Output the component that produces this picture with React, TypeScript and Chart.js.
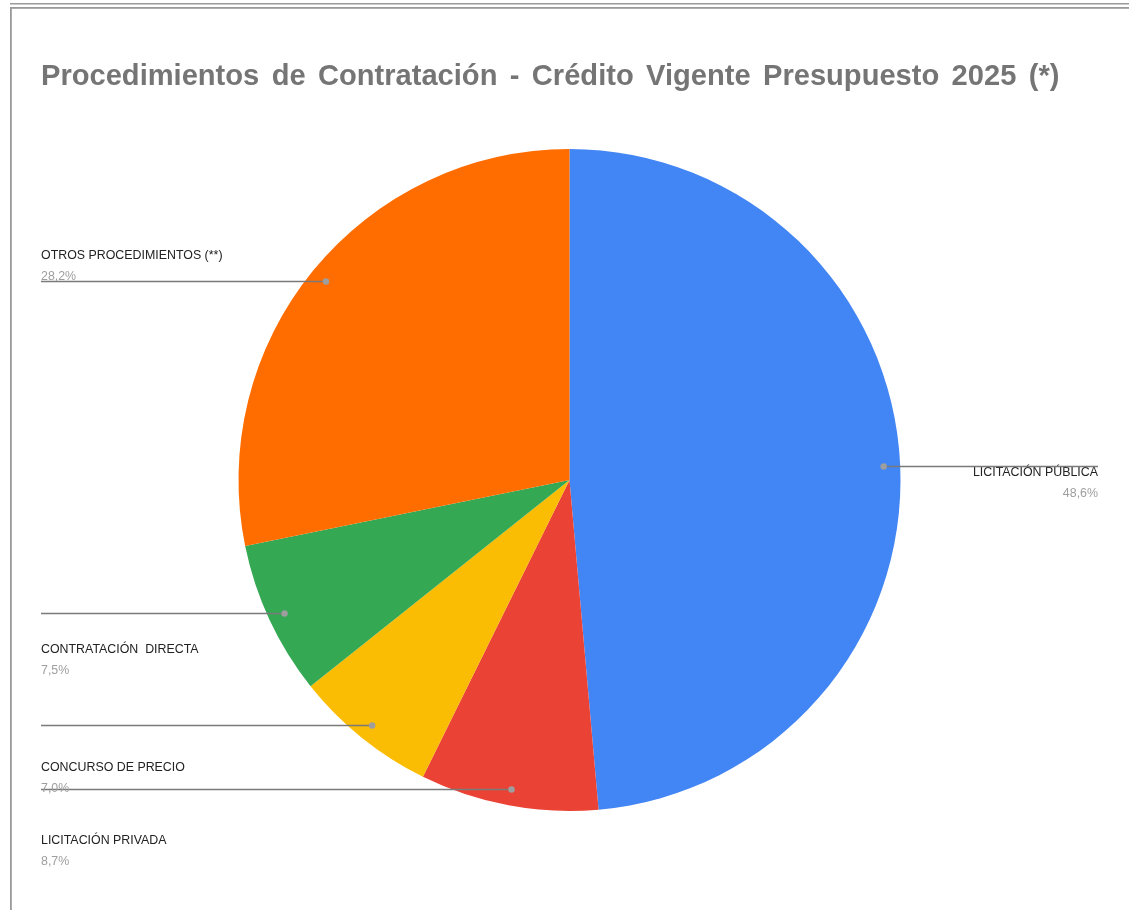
import React, { useEffect, useRef } from "react";
import { Chart, registerables } from "chart.js";

Chart.register(...registerables);

const TITLE = "Procedimientos de Contratación - Crédito Vigente Presupuesto 2025 (*)";
const categories = [
  "LICITACIÓN PÚBLICA",
  "LICITACIÓN PRIVADA",
  "CONCURSO DE PRECIO",
  "CONTRATACIÓN  DIRECTA",
  "OTROS PROCEDIMIENTOS (**)",
];
const values = [48.6, 8.7, 7.0, 7.5, 28.2];
const colors = ["#4285f4", "#ea4335", "#fbbc04", "#34a853", "#ff6d01"];
// label placement: side and baseline of the category name
const labelSide = ["right", "left", "left", "left", "left"];
const labelBaseline = [476, 844, 771, 653, 259];

const W = 1129;
const H = 910;
const FONT = '"Liberation Sans", Arial, sans-serif';

const overlayPlugin = {
  id: "overlay",
  afterDraw(chart: any) {
    const ctx = chart.ctx as CanvasRenderingContext2D;
    ctx.save();
    // frame
    ctx.fillStyle = "#9a9a9a";
    ctx.fillRect(10, 3, W - 10, 1.5);
    ctx.fillRect(10, 7, W - 10, 1.8);
    ctx.fillRect(10, 7, 1.8, H - 7);

    // title
    ctx.fillStyle = "#757575";
    ctx.font = `bold 29.1px ${FONT}`;
    (ctx as any).wordSpacing = "4.3px";
    ctx.textAlign = "left";
    ctx.textBaseline = "alphabetic";
    ctx.fillText(TITLE, 41, 85);
    (ctx as any).wordSpacing = "0px";

    const meta = chart.getDatasetMeta(0);
    const total = values.reduce((a, b) => a + b, 0);
    const leftX = 41;
    const rightX = 1098;
    meta.data.forEach((arc: any, i: number) => {
      const mid = (arc.startAngle + arc.endAngle) / 2;
      const r = arc.outerRadius * 0.95;
      const dx = arc.x + Math.cos(mid) * r;
      const dy = arc.y + Math.sin(mid) * r;
      const side = labelSide[i];
      const endX = side === "right" ? rightX : leftX;
      const by = labelBaseline[i];
      const pct = ((values[i] / total) * 100).toFixed(1).replace(".", ",") + "%";

      ctx.textAlign = side === "right" ? "right" : "left";
      ctx.font = `12.4px ${FONT}`;
      ctx.fillStyle = "#222222";
      ctx.fillText(categories[i], endX, by);
      ctx.fillStyle = "#9e9e9e";
      ctx.fillText(pct, endX, by + 20.5);

      // leader line
      ctx.strokeStyle = "#7a7a7a";
      ctx.lineWidth = 1.3;
      ctx.beginPath();
      ctx.moveTo(endX, Math.round(dy) + 0.5);
      ctx.lineTo(dx, Math.round(dy) + 0.5);
      ctx.stroke();
      ctx.fillStyle = "#9e9e9e";
      ctx.beginPath();
      ctx.arc(dx, Math.round(dy) + 0.5, 3.2, 0, Math.PI * 2);
      ctx.fill();
    });
    ctx.restore();
  },
};

export default function App() {
  const ref = useRef<HTMLCanvasElement | null>(null);
  useEffect(() => {
    if (!ref.current) return;
    const chart = new Chart(ref.current, {
      type: "pie",
      data: {
        labels: categories,
        datasets: [
          {
            data: values,
            backgroundColor: colors,
            borderWidth: 0,
          },
        ],
      },
      options: {
        responsive: false,
        animation: false,
        devicePixelRatio: 1,
        layout: { padding: { top: 149, bottom: 99, left: 238, right: 228 } },
        plugins: {
          legend: { display: false },
          title: { display: false },
          tooltip: { enabled: false },
        },
      },
      plugins: [overlayPlugin],
    });
    return () => chart.destroy();
  }, []);
  return (
    <div style={{ position: "absolute", left: 0, top: 0, width: W, height: H, background: "#fff" }}>
      <canvas ref={ref} width={W} height={H} style={{ display: "block" }} />
    </div>
  );
}
